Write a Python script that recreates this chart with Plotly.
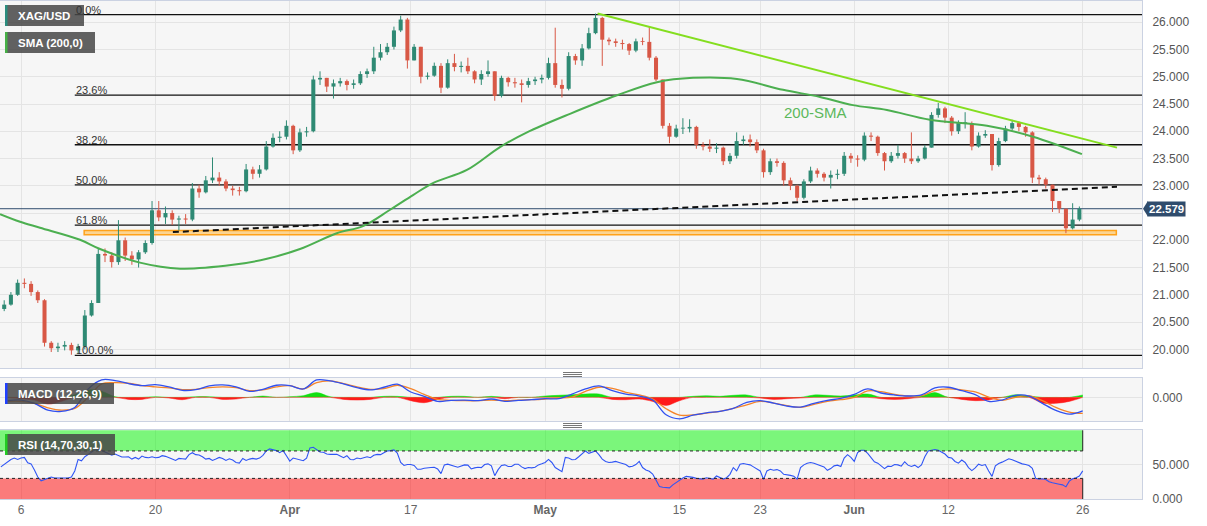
import plotly.graph_objects as go

# ---------------- DATA ----------------
# trading-day index: 0 = Mon 6 Mar 2023 (weekends removed); two candles per day
candle_start_t = -1.25
candle_step = 0.5
first_open = 20.74
closes = [20.82, 21.00, 21.22, 21.20, 21.05, 20.90, 20.12, 20.02, 20.05, 20.08,
          19.98, 20.05, 20.62, 20.85, 21.75, 21.72, 21.60, 22.00, 21.72, 21.65,
          21.78, 21.95, 22.55, 22.42, 22.50, 22.38, 22.40, 22.38, 22.95, 22.88,
          23.10, 23.15, 23.08, 22.95, 22.92, 22.90, 23.30, 23.22, 23.30, 23.72,
          23.88, 23.90, 24.10, 23.65, 23.98, 24.00, 24.95, 24.98, 24.82, 24.88,
          24.92, 24.85, 24.88, 25.05, 25.10, 25.35, 25.45, 25.55, 25.85, 26.05,
          25.30, 25.55, 25.00, 25.02, 25.20, 24.80, 25.25, 25.18, 25.20, 25.10,
          24.95, 25.05, 25.10, 24.65, 24.98, 24.90, 24.88, 24.85, 24.92, 24.95,
          24.98, 25.25, 24.85, 24.78, 25.38, 25.30, 25.52, 25.80, 26.08, 25.68,
          25.65, 25.62, 25.60, 25.48, 25.65, 25.64, 25.35, 24.95, 24.10, 23.90,
          24.05, 24.05, 24.08, 23.75, 23.72, 23.68, 23.70, 23.45, 23.55, 23.82,
          23.85, 23.80, 23.65, 23.25, 23.45, 23.42, 23.10, 23.00, 22.78, 23.08,
          23.28, 23.22, 23.15, 23.20, 23.22, 23.55, 23.50, 23.48, 23.92, 23.90,
          23.60, 23.45, 23.55, 23.60, 23.50, 23.45, 23.50, 23.70, 24.30, 24.42,
          24.25, 24.00, 24.15, 24.15, 23.72, 23.92, 23.95, 23.38, 23.82, 24.05,
          24.15, 24.08, 23.98, 23.15, 23.12, 23.02, 22.72, 22.58, 22.22, 22.38,
          22.579]
highs = [20.90, 21.05, 21.28, 21.30, 21.25, 21.08, 20.92, 20.15, 20.12, 20.15,
         20.12, 20.10, 20.72, 20.90, 21.85, 21.85, 21.78, 22.37, 22.05, 21.80,
         21.82, 22.00, 22.72, 22.72, 22.62, 22.55, 22.45, 22.48, 23.05, 23.02,
         23.18, 23.52, 23.25, 23.12, 23.00, 22.98, 23.40, 23.35, 23.38, 23.82,
         23.96, 24.00, 24.20, 24.12, 24.05, 24.08, 25.02, 25.10, 24.98, 24.95,
         24.98, 24.95, 24.95, 25.10, 25.15, 25.55, 25.60, 25.62, 25.92, 26.12,
         26.08, 25.60, 25.55, 25.08, 25.26, 25.25, 25.32, 25.42, 25.28, 25.35,
         25.12, 25.12, 25.30, 25.10, 25.02, 25.00, 24.98, 24.95, 24.98, 25.00,
         25.04, 25.35, 25.90, 24.95, 25.45, 25.42, 25.60, 25.90, 26.16, 26.10,
         25.72, 25.70, 25.68, 25.62, 25.70, 25.72, 25.92, 25.38, 24.95, 24.15,
         24.12, 24.24, 24.22, 24.10, 23.80, 23.85, 23.78, 23.72, 23.60, 23.98,
         23.92, 23.94, 23.85, 23.68, 23.50, 23.50, 23.45, 23.15, 23.02, 23.12,
         23.35, 23.32, 23.25, 23.28, 23.30, 23.62, 23.60, 23.56, 23.98, 23.98,
         23.92, 23.62, 23.62, 23.75, 23.62, 23.98, 23.55, 23.75, 24.35, 24.52,
         24.45, 24.28, 24.20, 24.35, 24.18, 23.98, 24.02, 23.95, 23.88, 24.10,
         24.21, 24.18, 24.10, 24.00, 23.20, 23.15, 23.02, 22.72, 22.58, 22.68,
         22.62]
lows = [20.70, 20.80, 20.98, 21.12, 20.98, 20.85, 20.05, 19.95, 19.95, 19.98,
        19.90, 19.92, 20.00, 20.60, 20.85, 21.60, 21.50, 21.55, 21.62, 21.55,
        21.50, 21.75, 21.92, 22.35, 22.30, 22.28, 22.18, 22.30, 22.35, 22.78,
        22.86, 23.05, 23.00, 22.90, 22.82, 22.82, 22.88, 23.12, 23.15, 23.28,
        23.70, 23.80, 23.85, 23.58, 23.62, 23.90, 23.98, 24.85, 24.72, 24.60,
        24.82, 24.75, 24.78, 24.85, 24.98, 25.05, 25.30, 25.40, 25.50, 25.82,
        25.15, 25.30, 24.88, 24.95, 25.00, 24.70, 24.78, 25.10, 25.08, 25.05,
        24.88, 24.85, 25.00, 24.56, 24.62, 24.82, 24.80, 24.53, 24.80, 24.85,
        24.88, 24.95, 24.80, 24.62, 24.75, 25.22, 25.20, 25.50, 25.78, 25.20,
        25.58, 25.55, 25.50, 25.40, 25.45, 25.58, 25.30, 24.92, 24.05, 23.78,
        23.88, 23.95, 23.98, 23.68, 23.65, 23.62, 23.60, 23.38, 23.40, 23.50,
        23.75, 23.72, 23.60, 23.15, 23.20, 23.35, 23.00, 22.92, 22.72, 22.75,
        23.05, 23.15, 23.08, 22.95, 23.12, 23.18, 23.42, 23.35, 23.45, 23.82,
        23.55, 23.28, 23.42, 23.50, 23.42, 23.40, 23.42, 23.48, 23.70, 24.25,
        24.15, 23.92, 23.95, 24.05, 23.65, 23.70, 23.88, 23.28, 23.35, 23.80,
        24.02, 24.00, 23.90, 23.05, 23.02, 22.95, 22.52, 22.50, 22.13, 22.20,
        22.35]
last_price = 22.579

sma_t = [-1.56, -0.07, 1.41, 4.39, 5.88, 8.85, 11.83, 15.77, 18.3, 20.76, 23.5,
         25.45, 27.46, 29.17, 30.65, 33.18, 35.64, 37.65, 40.85, 44.35, 47.32,
         50.0, 53.27, 56.7, 59.45, 61.9, 64.43, 67.63, 71.88, 75.3, 78.94]
sma_v = [22.48, 22.34, 22.23, 22.01, 21.84, 21.59, 21.48, 21.55, 21.66, 21.84, 22.13,
         22.26, 22.56, 22.83, 23.05, 23.29, 23.71, 23.98, 24.32, 24.66, 24.90,
         24.98, 24.96, 24.76, 24.63, 24.48, 24.39, 24.21, 24.10, 23.90, 23.58]

fib_high = 26.14
fib_low = 19.89
fib_ratios = [0.0, 0.236, 0.382, 0.5, 0.618, 1.0]
fib_labels = ["0.0%", "23.6%", "38.2%", "50.0%", "61.8%", "100.0%"]
fib_start_t = 4.0

support_t = [4.7, 81.5]
support_p = [22.10, 22.18]
dashed_t = [11.3, 81.55]
dashed_p = [22.15, 22.98]
resist_t = [42.9, 81.55]
resist_p = [26.16, 23.70]
sma_label_t, sma_label_p = 59.1, 24.34

macd_start_t = -1.0
macd_step = 1.0
macd_line = [-0.062, -0.050, -0.112, -0.238, -0.262, -0.188, 0.156, 0.325, 0.312, 0.256,
             0.219, 0.238, 0.194, 0.131, 0.144, 0.212, 0.231, 0.194, 0.112, 0.150,
             0.225, 0.219, 0.156, 0.325, 0.306, 0.250, 0.181, 0.138, 0.188, 0.244,
             0.100, 0.019, -0.075, -0.056, -0.050, -0.062, -0.031, -0.075, -0.056, -0.044,
             -0.025, -0.025, 0.062, 0.156, 0.212, 0.125, 0.062, 0.025, -0.050, -0.325,
             -0.400, -0.331, -0.288, -0.262, -0.206, -0.094, -0.062, -0.106, -0.162, -0.181,
             -0.112, -0.056, -0.019, 0.056, 0.156, 0.081, 0.044, 0.025, 0.044, 0.175,
             0.188, 0.125, 0.050, -0.075, -0.050, 0.038, 0.025, -0.112, -0.244, -0.312,
             -0.250]
signal_line = [-0.075, -0.075, -0.112, -0.194, -0.238, -0.206, 0.000, 0.250, 0.275, 0.262,
               0.219, 0.194, 0.175, 0.144, 0.150, 0.181, 0.194, 0.181, 0.125, 0.138,
               0.194, 0.219, 0.156, 0.275, 0.306, 0.256, 0.194, 0.150, 0.162, 0.225,
               0.162, 0.056, -0.038, -0.056, -0.062, -0.062, -0.050, -0.062, -0.050, -0.044,
               -0.031, -0.012, 0.006, 0.112, 0.188, 0.169, 0.094, 0.044, -0.031, -0.212,
               -0.331, -0.325, -0.294, -0.262, -0.206, -0.138, -0.075, -0.106, -0.156, -0.188,
               -0.131, -0.075, -0.044, 0.000, 0.119, 0.106, 0.056, 0.025, 0.031, 0.125,
               0.156, 0.138, 0.100, 0.006, -0.056, 0.000, 0.031, -0.062, -0.188, -0.275,
               -0.300]
macd_hist = [0.000, -0.025, -0.050, -0.125, -0.075, 0.050, 0.138, 0.112, 0.012, -0.038,
             -0.038, 0.012, -0.012, -0.044, 0.012, 0.012, -0.038, -0.031, 0.000, 0.025,
             0.000, 0.012, 0.031, 0.088, 0.012, -0.038, -0.050, -0.038, 0.019, 0.019,
             -0.062, -0.100, -0.038, 0.019, 0.019, 0.000, 0.019, -0.025, 0.000, 0.000,
             0.025, 0.038, 0.050, 0.062, 0.062, -0.038, -0.044, -0.031, -0.075, -0.150,
             -0.062, 0.019, 0.031, 0.019, 0.038, 0.044, -0.012, -0.038, -0.025, -0.012,
             0.044, 0.038, 0.025, 0.044, 0.062, -0.025, -0.038, -0.025, 0.025, 0.088,
             0.000, -0.038, -0.062, -0.050, 0.000, 0.050, 0.025, -0.106, -0.112, -0.075,
             0.044]

rsi_start_t = -1.5
rsi_step = 0.25
rsi = [46.8, 50.7, 54.2, 57.6, 59.6, 57.6, 59.6, 60.6, 52.7, 51.2,
       42.3, 32.0, 26.5, 28.0, 30.0, 32.0, 30.5, 30.5, 31.5, 31.5,
       30.5, 32.0, 40.9, 57.6, 55.7, 61.6, 64.6, 68.0, 71.5, 73.0,
       70.5, 68.5, 66.5, 64.0, 65.5, 63.6, 61.1, 61.1, 61.6, 58.1,
       60.6, 58.1, 62.6, 60.6, 60.1, 61.6, 60.1, 60.6, 63.1, 62.1,
       60.6, 58.1, 56.2, 59.1, 58.6, 58.1, 64.6, 67.5, 64.6, 64.1,
       61.6, 58.1, 59.1, 56.2, 58.1, 60.6, 59.1, 56.2, 58.6, 56.7,
       53.2, 52.2, 59.1, 56.2, 58.1, 59.1, 58.1, 59.6, 63.6, 70.0,
       73.0, 72.0, 70.5, 67.5, 70.5, 63.1, 55.2, 59.6, 58.6, 57.6,
       55.7, 59.6, 74.4, 75.4, 71.5, 68.5, 68.0, 65.5, 65.0, 65.5,
       65.0, 62.6, 60.1, 63.1, 57.6, 57.2, 59.6, 58.6, 59.6, 61.6,
       60.1, 63.6, 65.0, 64.6, 67.5, 70.0, 70.5, 71.5, 67.0, 53.2,
       48.8, 50.2, 50.2, 48.8, 43.3, 43.3, 44.8, 44.8, 45.8, 46.3,
       43.8, 36.9, 49.7, 50.7, 49.7, 47.8, 46.3, 47.8, 49.7, 49.3,
       43.8, 45.3, 46.3, 45.8, 50.2, 51.2, 48.3, 34.0, 42.8, 48.8,
       49.7, 47.3, 47.3, 50.7, 50.7, 46.8, 44.3, 45.8, 45.3, 46.3,
       49.7, 51.2, 53.2, 57.6, 53.2, 45.8, 43.3, 39.9, 60.6, 59.6,
       57.2, 57.6, 61.6, 66.0, 70.0, 66.5, 68.0, 70.0, 64.6, 58.1,
       54.7, 53.2, 53.7, 54.7, 53.2, 51.2, 50.2, 46.8, 47.8, 50.2,
       54.7, 45.8, 42.3, 40.4, 36.4, 27.5, 18.1, 17.2, 16.2, 16.2,
       20.6, 24.1, 27.0, 30.5, 33.0, 32.5, 31.5, 30.0, 29.0, 29.0,
       31.0, 29.5, 29.0, 33.5, 31.0, 29.0, 31.0, 35.9, 45.8, 40.9,
       50.7, 51.7, 50.7, 49.7, 46.8, 44.3, 40.9, 28.5, 40.9, 43.3,
       41.8, 42.8, 40.9, 35.9, 35.4, 34.4, 33.0, 29.0, 45.8, 49.7,
       52.2, 53.2, 52.2, 50.2, 48.3, 46.8, 41.8, 44.3, 48.3, 49.3,
       47.3, 59.6, 64.6, 60.6, 54.7, 67.5, 71.0, 71.0, 66.5, 59.6,
       54.2, 52.2, 47.8, 44.3, 47.8, 47.3, 50.2, 49.7, 47.8, 54.2,
       49.3, 47.3, 49.3, 45.8, 49.7, 61.6, 70.0, 71.0, 72.0, 71.0,
       68.0, 65.5, 60.6, 59.6, 54.7, 52.2, 56.7, 53.2, 45.8, 41.4,
       45.3, 50.7, 48.8, 50.2, 40.9, 33.0, 48.3, 51.7, 53.7, 55.7,
       58.6, 57.2, 55.2, 52.7, 51.2, 50.2, 48.8, 44.8, 30.0, 29.0,
       29.5, 28.5, 25.1, 23.6, 23.1, 21.6, 20.6, 17.7, 26.0, 29.5,
       31.0, 33.5, 40.9]
rsi_upper, rsi_lower = 70, 30
rsi_end_t = 79

tick_t = [0, 10, 20, 29, 39, 49, 55, 62, 69, 79]
tick_labels = ["6", "20", "<b>Apr</b>", "17", "<b>May</b>", "15", "23", "<b>Jun</b>", "12", "26"]
price_ticks = [20.0, 20.5, 21.0, 21.5, 22.0, 22.5, 23.0, 23.5, 24.0, 24.5, 25.0, 25.5, 26.0]

# ---------------- STYLE / LAYOUT ----------------
W, H = 1207, 526
ML, MR, MT, MB = 0, 65, 1, 27
PW = W - ML - MR
PH = H - MT - MB


def px(x):
    return (x - ML) / PW


def py(y):
    return (H - MB - y) / PH


FONT = "Arial, Liberation Sans, sans-serif"
UP = "#2f8a74"
DOWN = "#d85846"
GRID = "#e4e4e4"
BORDER = "#cbd2e2"
NAVY = "#2f4c6d"
BG = "#f6f6f6"
X_RANGE = [-1.5625, 83.41]

fig = go.Figure()

# candles
n = len(closes)
ct = [candle_start_t + candle_step * i for i in range(n)]
opens = [first_open] + closes[:-1]
up = dict(x=[], base=[], len=[], wx=[], wy=[])
dn = dict(x=[], base=[], len=[], wx=[], wy=[])
for t, o, h, l, c in zip(ct, opens, highs, lows, closes):
    d = up if c >= o else dn
    lo_b, hi_b = min(o, c), max(o, c)
    d["x"].append(t)
    d["base"].append(lo_b)
    d["len"].append(max(hi_b - lo_b, 0.015))
    d["wx"] += [t, t, None]
    d["wy"] += [min(l, lo_b), max(h, hi_b), None]

for d, col in ((up, UP), (dn, DOWN)):
    fig.add_trace(go.Scatter(x=d["wx"], y=d["wy"], mode="lines",
                             line=dict(color=col, width=1), xaxis="x", yaxis="y",
                             hoverinfo="skip"))
for d, col in ((up, UP), (dn, DOWN)):
    fig.add_trace(go.Bar(x=d["x"], y=d["len"], base=d["base"], width=0.3,
                         marker=dict(color=col, line=dict(width=0)),
                         xaxis="x", yaxis="y", hoverinfo="skip"))

# SMA 200
fig.add_trace(go.Scatter(x=sma_t, y=sma_v, mode="lines", line=dict(color="#4caf50", width=2, shape="spline"),
                         xaxis="x", yaxis="y", hoverinfo="skip"))
# trendlines
fig.add_trace(go.Scatter(x=dashed_t, y=dashed_p, mode="lines",
                         line=dict(color="#111111", width=2, dash="6px,4px"),
                         xaxis="x", yaxis="y", hoverinfo="skip"))
fig.add_trace(go.Scatter(x=resist_t, y=resist_p, mode="lines",
                         line=dict(color="#84de1f", width=2),
                         xaxis="x", yaxis="y", hoverinfo="skip"))

# MACD
mt = [macd_start_t + macd_step * j for j in range(len(macd_line))]
hist_pos = [max(v, 0) for v in macd_hist]
hist_neg = [min(v, 0) for v in macd_hist]
fig.add_trace(go.Scatter(x=mt, y=hist_pos, mode="lines", fill="tozeroy", fillcolor="#10e010",
                         line=dict(color="#10e010", width=0.5, shape="spline"),
                         xaxis="x2", yaxis="y2", hoverinfo="skip"))
fig.add_trace(go.Scatter(x=mt, y=hist_neg, mode="lines", fill="tozeroy", fillcolor="#ff1a1a",
                         line=dict(color="#ff1a1a", width=0.5, shape="spline"),
                         xaxis="x2", yaxis="y2", hoverinfo="skip"))
fig.add_trace(go.Scatter(x=mt, y=signal_line, mode="lines",
                         line=dict(color="#f5842a", width=1.3, shape="spline"),
                         xaxis="x2", yaxis="y2", hoverinfo="skip"))
fig.add_trace(go.Scatter(x=mt, y=macd_line, mode="lines",
                         line=dict(color="#3050f0", width=1.3, shape="spline"),
                         xaxis="x2", yaxis="y2", hoverinfo="skip"))

# RSI
rt = [rsi_start_t + rsi_step * k for k in range(len(rsi))]
fig.add_trace(go.Scatter(x=rt, y=rsi, mode="lines", line=dict(color="#2f55f5", width=1.1),
                         xaxis="x3", yaxis="y3", hoverinfo="skip"))

shapes = []
annotations = []

# fibonacci
for r, lab in zip(fib_ratios, fib_labels):
    lvl = fib_high - (fib_high - fib_low) * r
    shapes.append(dict(type="line", xref="x", yref="y", x0=fib_start_t, x1=X_RANGE[1], y0=lvl, y1=lvl,
                       line=dict(color="#111111", width=1.3), layer="between"))
    annotations.append(dict(xref="x", yref="y", x=fib_start_t, y=lvl, text=lab, showarrow=False,
                            xanchor="left", yanchor="bottom", yshift=-3, xshift=-1,
                            font=dict(family=FONT, size=11, color="#333333")))

# support zone
shapes.append(dict(type="rect", xref="x", yref="y", x0=support_t[0], x1=support_t[1],
                   y0=support_p[0], y1=support_p[1], fillcolor="rgba(255,190,80,0.6)",
                   line=dict(color="#ffa21a", width=1.5), layer="between"))
# last price line
shapes.append(dict(type="line", xref="x", yref="y", x0=X_RANGE[0], x1=X_RANGE[1],
                   y0=last_price, y1=last_price, line=dict(color=NAVY, width=1), layer="between"))

# RSI bands
shapes.append(dict(type="rect", xref="x3", yref="y3", x0=X_RANGE[0], x1=rsi_end_t, y0=rsi_upper, y1=100,
                   fillcolor="rgba(0,245,0,0.5)", line=dict(width=0), layer="between"))
shapes.append(dict(type="rect", xref="x3", yref="y3", x0=X_RANGE[0], x1=rsi_end_t, y0=0, y1=rsi_lower,
                   fillcolor="rgba(255,0,0,0.5)", line=dict(width=0), layer="between"))
for lv in (rsi_upper, rsi_lower):
    shapes.append(dict(type="line", xref="x3", yref="y3", x0=X_RANGE[0], x1=rsi_end_t, y0=lv, y1=lv,
                       line=dict(color="#222222", width=1, dash="dot")))
for y0, y1 in ((rsi_upper, 100), (0, rsi_lower)):
    shapes.append(dict(type="line", xref="x3", yref="y3", x0=rsi_end_t, x1=rsi_end_t, y0=y0, y1=y1,
                       line=dict(color="#222222", width=1)))

# legend-like labels
labels = [("XAG/USD", 5, 84, 5, 26, "#2a8d7e"),
          ("SMA (200,0)", 5, 95, 32, 53, "#45b045"),
          ("MACD (12,26,9)", 5, 114, 383, 404, "#2040ff"),
          ("RSI (14,70,30,1)", 5, 115, 434, 455, "#22cc22")]
for txt, x0, x1, y0, y1, acc in labels:
    shapes.append(dict(type="rect", xref="paper", yref="paper", x0=px(x0), x1=px(x1), y0=py(y1), y1=py(y0),
                       fillcolor="rgba(72,72,72,0.86)", line=dict(width=0), layer="above"))
    shapes.append(dict(type="rect", xref="paper", yref="paper", x0=px(x0), x1=px(x0 + 2.5), y0=py(y1), y1=py(y0),
                       fillcolor=acc, line=dict(width=0), layer="above"))
    annotations.append(dict(xref="paper", yref="paper", x=px(x0 + 11), y=py((y0 + y1) / 2), text="<b>%s</b>" % txt,
                            showarrow=False, xanchor="left", yanchor="middle",
                            font=dict(family=FONT, size=11.5, color="white")))

# 200-SMA text
annotations.append(dict(xref="x", yref="y", x=sma_label_t, y=sma_label_p, text="200-SMA", showarrow=False,
                        font=dict(family=FONT, size=15, color="#5cb85c")))

# price tag (covers the 22.500 axis label as in the original)
annotations.append(dict(xref="paper", yref="y", x=1, y=last_price, text="<b>%.3f</b>" % last_price,
                        showarrow=False, xanchor="left", yanchor="middle", xshift=5,
                        bgcolor=NAVY, borderpad=1, font=dict(family=FONT, size=11.5, color="white")))
shapes.append(dict(type="path", xref="paper", yref="y", xsizemode="pixel", ysizemode="pixel",
                   xanchor=1, yanchor=last_price, path="M 1,0 L 6,-8 L 6,8 Z",
                   fillcolor=NAVY, line=dict(width=0), layer="above"))
price_ticktext = ["" if abs(v - last_price) < 0.15 else "%.3f" % v for v in price_ticks]

# panel grips
for base in (372.5, 423.5):
    for k in range(3):
        yy = base + 2 * k
        shapes.append(dict(type="line", xref="paper", yref="paper", x0=px(563), x1=px(582),
                           y0=py(yy), y1=py(yy), line=dict(color="#777777", width=1), layer="above"))

common_x = dict(range=X_RANGE, tickvals=tick_t, ticktext=tick_labels, showgrid=True, gridcolor=GRID,
                gridwidth=1, zeroline=False, showline=True, linecolor=BORDER, linewidth=1, mirror=True,
                ticks="", fixedrange=True)
common_y = dict(side="right", showgrid=True, gridcolor=GRID, gridwidth=1, zeroline=False, showline=True,
                linecolor=BORDER, linewidth=1, mirror=True, ticks="outside", ticklen=7,
                tickcolor="rgba(0,0,0,0)", tickformat=".3f",
                tickfont=dict(family=FONT, size=12, color="#555555"), fixedrange=True)

fig.update_layout(
    width=W, height=H, margin=dict(l=ML, r=MR, t=MT, b=MB),
    paper_bgcolor="white", plot_bgcolor=BG, showlegend=False, barmode="overlay",
    hovermode=False,
    xaxis=dict(common_x, anchor="y", showticklabels=False),
    xaxis2=dict(common_x, anchor="y2", showticklabels=False),
    xaxis3=dict(common_x, anchor="y3", showticklabels=True,
                tickfont=dict(family=FONT, size=12, color="#666666")),
    yaxis=dict(common_y, domain=[py(368), 1.0], range=[19.657, 26.39], tickvals=price_ticks,
               ticktext=price_ticktext, anchor="x"),
    yaxis2=dict(common_y, domain=[py(421), py(378)], range=[-0.44, 0.36], tickvals=[0], anchor="x2"),
    yaxis3=dict(common_y, domain=[0.0, py(430)], range=[0, 100.5], tickvals=[0, 50], anchor="x3"),
    shapes=shapes, annotations=annotations,
)

fig.write_html("out.html", config={"displayModeBar": False, "staticPlot": True},
               post_script="document.body.style.margin='0px';document.body.style.overflow='hidden';")
